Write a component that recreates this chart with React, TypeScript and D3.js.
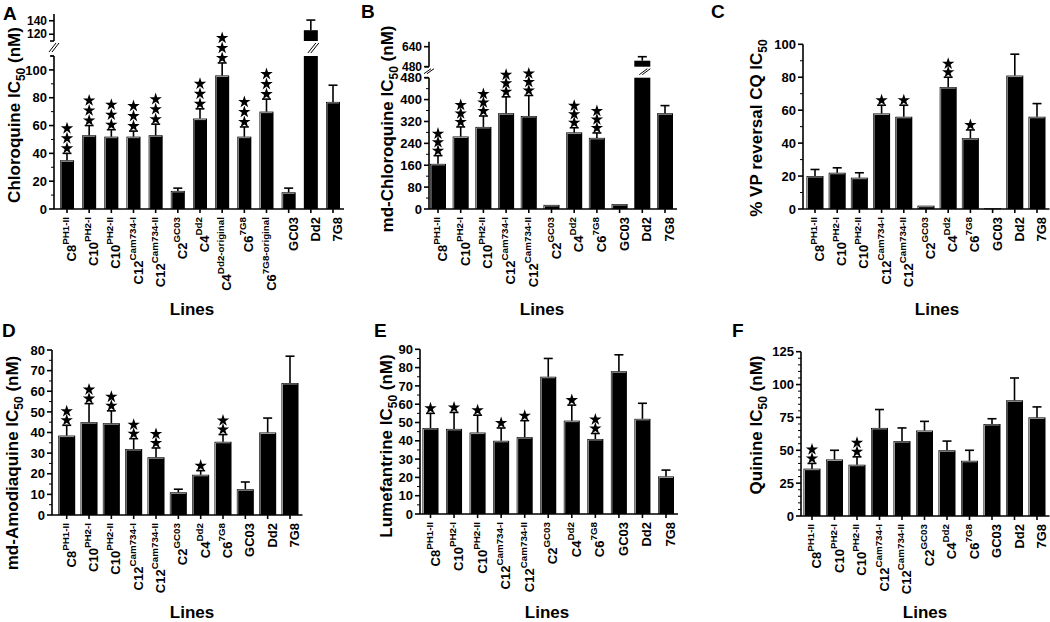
import React from "react";
import * as d3 from "d3";

// ---------- DATA ----------
const linesCQ: [string, string][] = [
  ["C8", "PH1-II"], ["C10", "PH2-I"], ["C10", "PH2-II"], ["C12", "Cam734-I"], ["C12", "Cam734-II"],
  ["C2", "GC03"], ["C4", "Dd2"], ["C4", "Dd2-original"], ["C6", "7G8"], ["C6", "7G8-original"],
  ["GC03", ""], ["Dd2", ""], ["7G8", ""],
];
const linesStd: [string, string][] = [
  ["C8", "PH1-II"], ["C10", "PH2-I"], ["C10", "PH2-II"], ["C12", "Cam734-I"], ["C12", "Cam734-II"],
  ["C2", "GC03"], ["C4", "Dd2"], ["C6", "7G8"], ["GC03", ""], ["Dd2", ""], ["7G8", ""],
];

const cqMean = [35, 53, 52, 52, 53, 13, 65, 96, 52, 70, 12, 126, 77];
const cqSem = [5, 7, 5, 4, 8, 2, 7, 9, 7, 9, 3, 15, 12];
const cqStars = [3, 3, 3, 3, 3, 0, 3, 3, 3, 3, 0, 0, 0];

const mdcqMean = [165, 265, 300, 350, 340, 15, 280, 260, 18, 528, 350];
const mdcqSem = [30, 35, 40, 60, 75, 0, 17, 18, 0, 32, 28];
const mdcqStars = [3, 3, 3, 3, 3, 0, 3, 3, 0, 0, 0];

const vpMean = [20, 22, 19, 58, 56, 2, 74, 43, 0.5, 81, 56];
const vpSem = [4, 3, 3, 5, 7, 0, 6, 5, 0, 13, 8];
const vpStars = [0, 0, 0, 1, 1, 0, 2, 1, 0, 0, 0];

const mdaqMean = [38.5, 45, 44.5, 32, 28, 11, 19.5, 35.5, 12.5, 40, 64];
const mdaqSem = [5, 9, 6, 5, 4.5, 1.5, 2, 3.5, 3.5, 7, 13];
const mdaqStars = [2, 2, 2, 2, 2, 0, 1, 2, 0, 0, 0];

const lumMean = [47, 46.5, 44.5, 40, 42, 75, 51, 41, 78, 52, 20.5];
const lumSem = [8, 9, 9.5, 7, 9, 10, 8.5, 3, 9, 8.5, 3.5];
const lumStars = [1, 1, 1, 1, 1, 0, 1, 2, 0, 0, 0];

const qnMean = [36, 43, 39, 67, 57, 65, 50, 42, 70, 88, 75];
const qnSem = [4, 7, 6, 14, 10, 7, 7, 8, 4, 17, 8];
const qnStars = [2, 0, 2, 0, 0, 0, 0, 0, 0, 0, 0];

const ticksCQ = [0, 20, 40, 60, 80, 100];
const ticksCQUp = [120, 140];
const ticksMdcq = [0, 80, 160, 240, 320, 400, 480];
const ticksMdcqUp = [480, 640];
const ticksVP = [0, 20, 40, 60, 80, 100];
const ticksMdaq = [0, 10, 20, 30, 40, 50, 60, 70, 80];
const ticksLum = [0, 10, 20, 30, 40, 50, 60, 70, 80, 90];
const ticksQn = [0, 25, 50, 75, 100, 125];

// ---------- LAYOUT ----------
const FONT = "'Liberation Sans', Arial, sans-serif";

type Layout = {
  axisX: number; zeroY: number; first: number; last: number; barW: number;
  lowDomain: [number, number]; lowTop: number;
  upDomain?: [number, number]; upRange?: [number, number];
  minor: number; starGap: number;
  letter: [number, number]; title: [number, number]; linesT: [number, number];
};

const layA: Layout = { axisX: 54, zeroY: 209, first: 67, last: 333, barW: 14, lowDomain: [0, 110], lowTop: 56,
  upDomain: [110, 150], upRange: [41, 14], minor: 10, starGap: 10, letter: [3, 20], title: [20, 115], linesT: [192, 315] };
const layB: Layout = { axisX: 429, zeroY: 209, first: 438, last: 665, barW: 16, lowDomain: [0, 480], lowTop: 77.7,
  upDomain: [480, 680], upRange: [66.7, 41.7], minor: 40, starGap: 8.5, letter: [361, 18], title: [393, 129], linesT: [542, 315] };
const layC: Layout = { axisX: 803, zeroY: 209, first: 815, last: 1037, barW: 17, lowDomain: [0, 100], lowTop: 44.3,
  minor: 10, starGap: 8.5, letter: [711, 18], title: [762, 128], linesT: [937, 315] };
const layD: Layout = { axisX: 52, zeroY: 515, first: 66.7, last: 290, barW: 17, lowDomain: [0, 80], lowTop: 350,
  minor: 5, starGap: 9, letter: [2, 337], title: [18, 463], linesT: [192, 618] };
const layE: Layout = { axisX: 420, zeroY: 514, first: 430.5, last: 666, barW: 16, lowDomain: [0, 90], lowTop: 349.3,
  minor: 5, starGap: 9, letter: [374, 337], title: [392, 446], linesT: [547, 618] };
const layF: Layout = { axisX: 801, zeroY: 516, first: 812, last: 1037, barW: 17, lowDomain: [0, 125], lowTop: 351.7,
  minor: 5, starGap: 9, letter: [732, 337], title: [762, 425], linesT: [925, 618] };

const starPath = d3.symbol().type(d3.symbolStar).size(48)() as string;

type PanelProps = {
  letter: string; lay: Layout; lines: [string, string][]; mean: number[]; sem: number[]; stars: number[];
  ticks: number[]; ticksUp?: number[]; titleMain: string; titleTail: string;
};

function Panel({ letter, lay, lines, mean, sem, stars, ticks, ticksUp, titleMain, titleTail }: PanelProps) {
  const keys = lines.map((l, i) => `${i}`);
  const x = d3.scalePoint<string>().domain(keys).range([lay.first, lay.last]);
  const yLow = d3.scaleLinear().domain(lay.lowDomain).range([lay.zeroY, lay.lowTop]);
  const yUp = lay.upDomain && lay.upRange ? d3.scaleLinear().domain(lay.upDomain).range(lay.upRange) : null;
  const lowMax = lay.lowDomain[1];
  const yPos = (v: number) => (yUp && v > lowMax ? yUp(v) : yLow(v));
  const axisEnd = lay.last + lay.barW / 2 + 4;
  const minorTicks = d3.range(lay.lowDomain[0], lowMax + 0.001, lay.minor).filter((t) => !ticks.includes(t));
  const hw = lay.barW / 2;

  return (
    <g>
      <text x={lay.letter[0]} y={lay.letter[1]} fontSize={19} fontWeight="bold" fontFamily={FONT}>{letter}</text>
      {/* y title */}
      <text transform={`translate(${lay.title[0]},${lay.title[1]}) rotate(-90)`} textAnchor="middle"
        fontSize={17} fontWeight="bold" fontFamily={FONT}>
        {titleMain}<tspan fontSize={12} dy={5}>50</tspan><tspan dy={-5}>{titleTail}</tspan>
      </text>
      <text x={lay.linesT[0]} y={lay.linesT[1]} textAnchor="middle" fontSize={17} fontWeight="bold" fontFamily={FONT}>Lines</text>

      {/* bars */}
      {mean.map((v, i) => {
        const cx = x(keys[i]) as number;
        if (yUp && v > lowMax) {
          const ub = lay.upRange![0];
          return (
            <g key={`b${i}`}>
              <rect x={cx - hw} y={yLow(lowMax)} width={lay.barW} height={lay.zeroY - yLow(lowMax)} fill="#000" />
              <rect x={cx - hw} y={yUp(v)} width={lay.barW} height={ub - yUp(v)} fill="#000" />
              <line x1={cx - 3} y1={yLow(lowMax) - 3} x2={cx + 5} y2={ub + 2} stroke="#000" strokeWidth={1} />
              <line x1={cx} y1={yLow(lowMax) - 3} x2={cx + 8} y2={ub + 2} stroke="#000" strokeWidth={1} />
            </g>
          );
        }
        const top = yPos(v);
        return (
          <g key={`b${i}`}>
            <rect x={cx - hw} y={top} width={lay.barW} height={lay.zeroY - top} fill="#000" />
            <path d={`M${cx - hw + 1},${lay.zeroY} V${top + 1} H${cx + hw - 1}`} fill="none" stroke="#9a9a9a" strokeWidth={1} />
          </g>
        );
      })}
      {/* error bars */}
      {mean.map((v, i) => {
        if (!sem[i]) return null;
        const cx = x(keys[i]) as number;
        const y0 = yPos(v);
        const y1 = yPos(v + sem[i]);
        return (
          <g key={`e${i}`} stroke="#000" strokeWidth={1.6}>
            <line x1={cx} x2={cx} y1={y0} y2={y1} />
            <line x1={cx - 4.5} x2={cx + 4.5} y1={y1} y2={y1} />
          </g>
        );
      })}
      {/* stars */}
      {mean.map((v, i) => {
        const cx = x(keys[i]) as number;
        const base = yPos(v + sem[i]) - 5;
        return d3.range(stars[i]).map((k) => (
          <path key={`s${i}-${k}`} d={starPath} transform={`translate(${cx},${base - k * lay.starGap})`} fill="#000" />
        ));
      })}

      {/* y axis lower */}
      <g stroke="#000" strokeWidth={1.6}>
        <line x1={lay.axisX} x2={lay.axisX} y1={lay.zeroY} y2={lay.lowTop} />
        <line x1={lay.axisX} x2={axisEnd} y1={lay.zeroY} y2={lay.zeroY} />
        {ticks.map((t) => <line key={`t${t}`} x1={lay.axisX - 5} x2={lay.axisX} y1={yLow(t)} y2={yLow(t)} />)}
        {yUp && <line x1={lay.axisX - 4} x2={lay.axisX} y1={lay.lowTop} y2={lay.lowTop} />}
        {keys.map((k) => <line key={`xt${k}`} x1={x(k)} x2={x(k)} y1={lay.zeroY} y2={lay.zeroY + 4} />)}
      </g>
      <g stroke="#000" strokeWidth={1}>
        {minorTicks.map((t) => <line key={`m${t}`} x1={lay.axisX - 3} x2={lay.axisX} y1={yLow(t)} y2={yLow(t)} />)}
      </g>
      {ticks.map((t) => (
        <text key={`l${t}`} x={lay.axisX - 7} y={yLow(t)} dy="0.36em" textAnchor="end" fontSize={13} fontWeight="bold" fontFamily={FONT}>{t}</text>
      ))}
      {/* upper axis */}
      {yUp && (
        <g>
          <g stroke="#000" strokeWidth={1.6}>
            <line x1={lay.axisX} x2={lay.axisX} y1={lay.upRange![0]} y2={lay.upRange![1]} />
            <line x1={lay.axisX - 4} x2={lay.axisX} y1={lay.upRange![0]} y2={lay.upRange![0]} />
            {(ticksUp || []).map((t) => <line key={`u${t}`} x1={lay.axisX - 5} x2={lay.axisX} y1={yUp(t)} y2={yUp(t)} />)}
          </g>
          <line x1={lay.axisX - 5} y1={lay.lowTop - 4} x2={lay.axisX + 2} y2={lay.upRange![0] + 2} stroke="#000" strokeWidth={1} />
          <line x1={lay.axisX - 2} y1={lay.lowTop - 4} x2={lay.axisX + 5} y2={lay.upRange![0] + 2} stroke="#000" strokeWidth={1} />
          {(ticksUp || []).map((t) => (
            <text key={`ul${t}`} x={lay.axisX - 7} y={yUp(t) - 0.5} dy="0.36em" textAnchor="end" fontSize={12} fontWeight="bold" fontFamily={FONT}>{t}</text>
          ))}
        </g>
      )}
      {/* category labels */}
      {lines.map(([main, sup], i) => {
        const cx = x(keys[i]) as number;
        return (
          <text key={`c${i}`} transform={`translate(${cx + 9},${lay.zeroY + 8}) rotate(-90)`} textAnchor="end"
            fontSize={13} fontWeight="bold" fontFamily={FONT}>
            {main}{sup && <tspan fontSize={9.8} dy={-7}>{sup}</tspan>}
          </text>
        );
      })}
    </g>
  );
}

export default function App() {
  return (
    <svg width={1050} height={622} style={{ position: "absolute", left: 0, top: 0, background: "#fff" }}>
      <rect width={1050} height={622} fill="#fff" />
      <Panel letter="A" lay={layA} lines={linesCQ} mean={cqMean} sem={cqSem} stars={cqStars} ticks={ticksCQ} ticksUp={ticksCQUp}
        titleMain="Chloroquine IC" titleTail=" (nM)" />
      <Panel letter="B" lay={layB} lines={linesStd} mean={mdcqMean} sem={mdcqSem} stars={mdcqStars} ticks={ticksMdcq} ticksUp={ticksMdcqUp}
        titleMain="md-Chloroquine IC" titleTail=" (nM)" />
      <Panel letter="C" lay={layC} lines={linesStd} mean={vpMean} sem={vpSem} stars={vpStars} ticks={ticksVP}
        titleMain="% VP reversal CQ IC" titleTail="" />
      <Panel letter="D" lay={layD} lines={linesStd} mean={mdaqMean} sem={mdaqSem} stars={mdaqStars} ticks={ticksMdaq}
        titleMain="md-Amodiaquine IC" titleTail=" (nM)" />
      <Panel letter="E" lay={layE} lines={linesStd} mean={lumMean} sem={lumSem} stars={lumStars} ticks={ticksLum}
        titleMain="Lumefantrine IC" titleTail=" (nM)" />
      <Panel letter="F" lay={layF} lines={linesStd} mean={qnMean} sem={qnSem} stars={qnStars} ticks={ticksQn}
        titleMain="Quinine IC" titleTail=" (nM)" />
    </svg>
  );
}
